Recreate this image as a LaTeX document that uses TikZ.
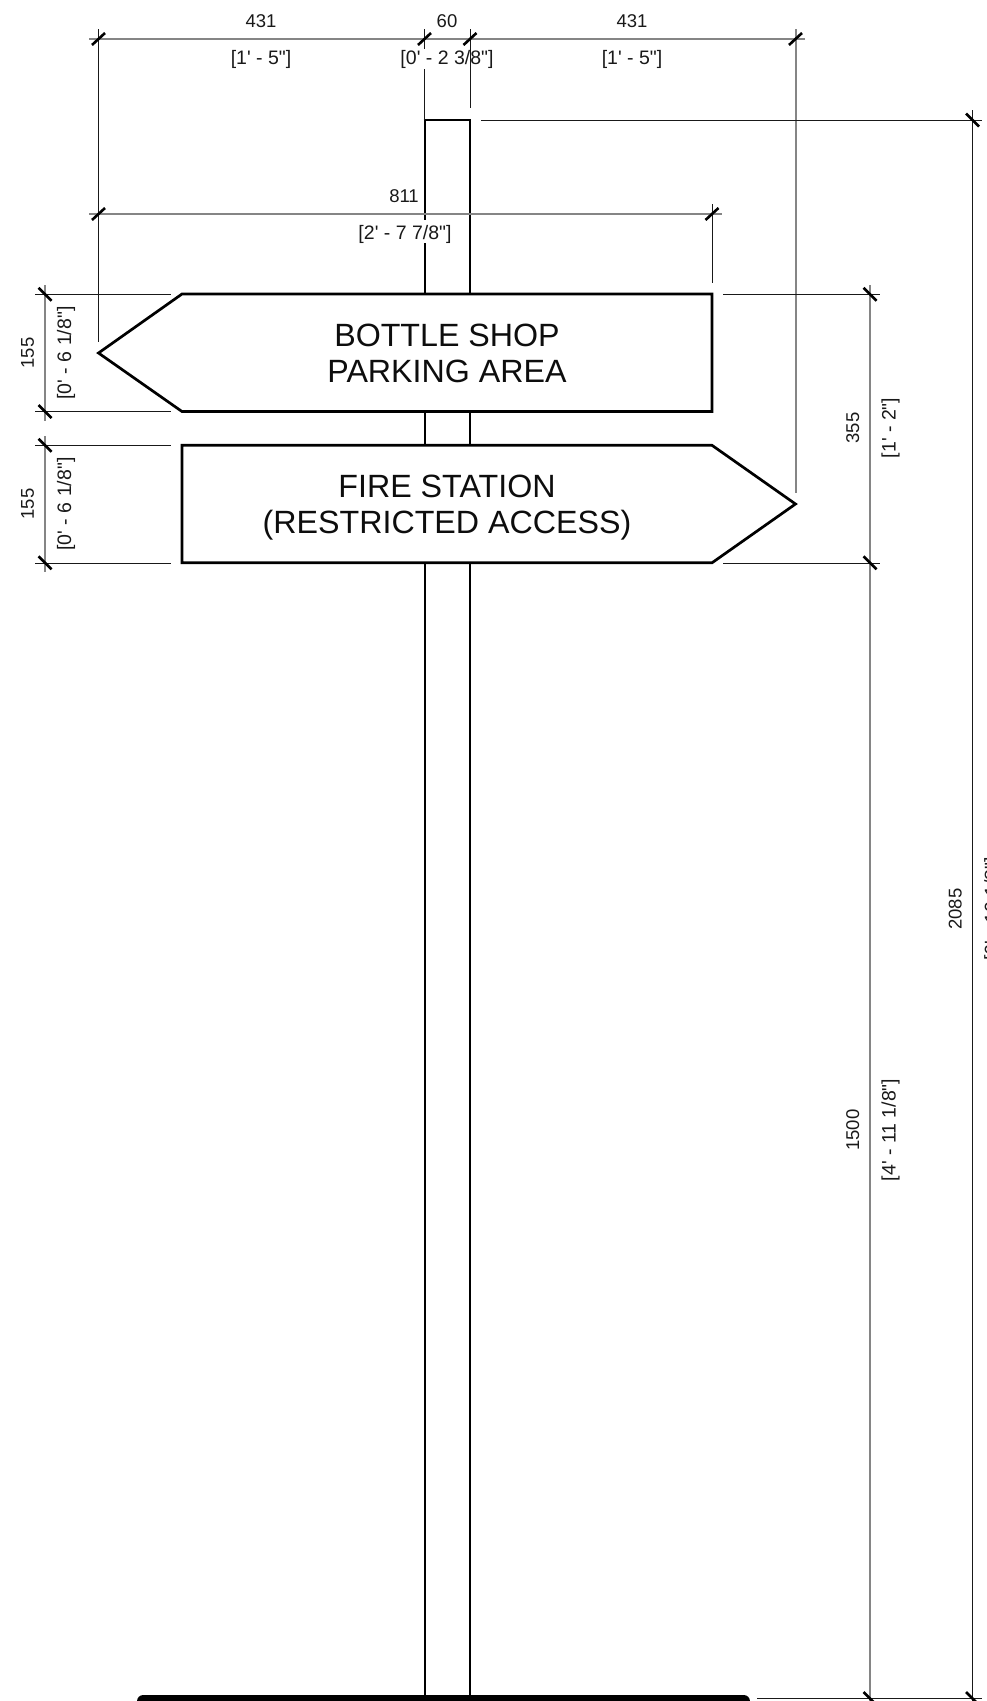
\documentclass[tikz,border=0pt]{standalone}
\usepackage{fontspec}
\newfontfamily\lab{Liberation Sans}
\tikzset{
  thinl/.style={line width=0.9pt,black!90},
  grayl/.style={line width=2pt,black!48},
  pole/.style={line width=2pt,black},
  sign/.style={line width=2.7pt,black,line join=miter},
  tickm/.style={line width=2.6pt,black},
  dimlab/.style={font=\lab\fontsize{18.5}{20}\selectfont,inner sep=0pt,anchor=base,text=black!90},
  brlab/.style={font=\lab\fontsize{19.5}{20}\selectfont,inner sep=0pt,anchor=base,text=black!90},
  signlab/.style={font=\lab\fontsize{32.2}{36}\selectfont,inner sep=0pt,anchor=base,align=center,text=black!95},
}
\begin{document}
\begin{tikzpicture}[x=1pt,y=-1pt]
\clip (0,0) rectangle (987,1701);
% pole
\draw[pole] (424.5,243) -- (424.5,1695);
\draw[pole] (424.5,120) -- (424.5,220);
\draw[pole] (470,120) -- (470,1695);
\draw[pole] (423.5,120) -- (471,120);
% base plate
\draw[line width=13pt,line cap=round,black] (143.5,1701) -- (743.5,1701);
% signs
\draw[sign,fill=white] (182,294) -- (712,294) -- (712,411.5) -- (182,411.5) -- (98.5,353) -- cycle;
\draw[sign,fill=white] (182,445.3) -- (712,445.3) -- (795.5,504) -- (712,562.8) -- (182,562.8) -- cycle;
\node[signlab] (s1a) at (447,346) {BOTTLE SHOP};
\node[signlab] (s1b) at (447,382) {PARKING AREA};
\node[signlab] (s2a) at (447,497) {FIRE STATION};
\node[signlab] (s2b) at (447,533) {(RESTRICTED ACCESS)};
% extension and dimension lines
\draw[grayl] (89,39) -- (805,39);
\draw[grayl] (89,214) -- (721.7,214);
\draw[thinl] (98.5,29) -- (98.5,342);
\draw[thinl] (424.5,29) -- (424.5,49);
\draw[thinl] (424.5,69) -- (424.5,120);
\draw[thinl] (470,29) -- (470,108);
\draw[grayl] (796,29) -- (796,493);
\draw[thinl] (712,204) -- (712,283);
\draw[thinl] (481,120) -- (982,120);
\draw[thinl] (35,294.3) -- (171,294.3);
\draw[thinl] (35,411.5) -- (171,411.5);
\draw[thinl] (35,445.3) -- (171,445.3);
\draw[thinl] (35,563) -- (171,563);
\draw[thinl] (723,294.3) -- (880,294.3);
\draw[thinl] (723,563) -- (880,563);
\draw[thinl] (757,1698.5) -- (982,1698.5);
\draw[grayl] (45,285) -- (45,421);
\draw[grayl] (45,436) -- (45,572);
\draw[grayl] (870,285) -- (870,1701);
\draw[thinl] (972.5,110) -- (972.5,1701);
% ticks
\foreach \x/\y in {98.5/39,424.5/39,470/39,795.5/39,98.5/214,712/214}
  \draw[tickm] (\x-6.5,\y+6) -- (\x+6.5,\y-6);
\foreach \x/\y in {972.5/120,870/294.3,870/562.8,45/294.3,45/411.5,45/445.3,45/562.8,870/1698.5,972.5/1698.5}
  \draw[tickm] (\x-6.5,\y-6.5) -- (\x+6.5,\y+6.5);
% labels
\node[dimlab] (a1) at (261,27) {431};
\node[brlab] (a2) at (261,64) {[1' - 5"]};
\node[dimlab] (b1) at (447,27) {60};
\node[brlab] (b2) at (447,64) {[0' - 2 3/8"]};
\node[dimlab] (c1) at (632,27) {431};
\node[brlab] (c2) at (632,64) {[1' - 5"]};
\node[dimlab] (d1) at (404,202) {811};
\node[brlab] (d2) at (405,239) {[2' - 7 7/8"]};
\node[dimlab,rotate=90] (e1) at (34,353) {155};
\node[brlab,rotate=90] (e2) at (71,353) {[0' - 6 1/8"]};
\node[dimlab,rotate=90] (f1) at (34,504) {155};
\node[brlab,rotate=90] (f2) at (71,504) {[0' - 6 1/8"]};
\node[dimlab,rotate=90] (g1) at (859,428) {355};
\node[brlab,rotate=90] (g2) at (895.7,428) {[1' - 2"]};
\node[dimlab,rotate=90] (h1) at (859,1130) {1500};
\node[brlab,rotate=90] (h2) at (895.7,1130) {[4' - 11 1/8"]};
\node[dimlab,rotate=90] (i1) at (961.7,909) {2085};
\node[brlab,rotate=90] (i2) at (998.4,909) {[6' - 10 1/8"]};
\end{tikzpicture}
\end{document}
